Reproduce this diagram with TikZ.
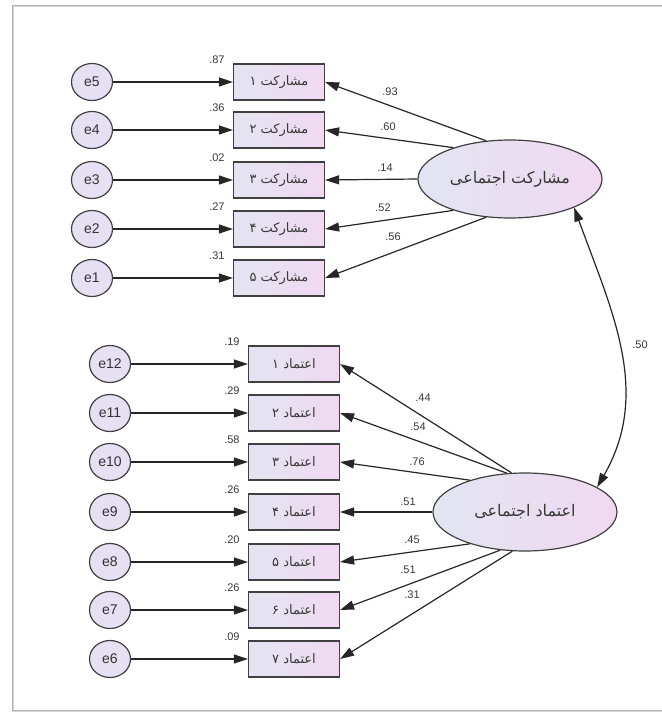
\documentclass[tikz,border=0pt]{standalone}
\usepackage{fontspec}
\setmainfont{Liberation Sans}
\newfontfamily\farsi[Script=Arabic]{DejaVu Sans}
\TeXXeTstate=1
\usetikzlibrary{arrows.meta,shapes.geometric}
\newcommand{\fa}[1]{{\farsi\beginR #1\endR}}
\definecolor{frameline}{HTML}{B0B0B0}
\definecolor{shadeleft}{HTML}{E2E5F1}
\definecolor{shaderight}{HTML}{F0D9F1}
\definecolor{errfill}{HTML}{E6E0F2}
\definecolor{labelgray}{HTML}{383838}

\begin{document}
\begin{tikzpicture}[x=1pt,y=-1pt,
    indicator/.style={draw=black!75, line width=1.2pt, minimum width=91pt, minimum height=36pt,
        inner sep=0pt, left color=shadeleft, right color=shaderight, text=labelgray,
        font=\fontsize{13}{14}\selectfont},
    errvar/.style={ellipse, draw=black!75, line width=1.2pt, minimum width=41pt, minimum height=37pt,
        inner sep=0pt, fill=errfill, text=black!80, font=\fontsize{14}{15}\selectfont},
    latent/.style={ellipse, draw=black!75, line width=1.2pt, minimum width=184pt, minimum height=78pt,
        inner sep=0pt, left color=shadeleft, right color=shaderight, text=labelgray,
        font=\fontsize{16}{17}\selectfont},
    loading/.style={-{Triangle[length=14pt,width=9pt]}, line width=1.2pt, black!85},
    corr/.style={{Triangle[length=14pt,width=9pt]}-{Triangle[length=14pt,width=9pt]}, line width=1.2pt, black!85},
    coef/.style={inner sep=1pt, text=labelgray, font=\fontsize{11}{12}\selectfont}]
    \useasboundingbox (0,0) rectangle (662,713);
    \draw[frameline!50, line width=2.5pt] (13,6) rectangle (720,711);
    \draw[frameline, line width=1pt] (12,5) rectangle (720,710);

    % social participation
    \node[latent] (part) at (510,179) {\fa{مشارکت اجتماعی}};
    \node[indicator] (m1) at (279,82)  {\fa{مشارکت ۱}};
    \node[indicator] (m2) at (279,130) {\fa{مشارکت ۲}};
    \node[indicator] (m3) at (279,180) {\fa{مشارکت ۳}};
    \node[indicator] (m4) at (279,229) {\fa{مشارکت ۴}};
    \node[indicator] (m5) at (279,278) {\fa{مشارکت ۵}};
    \node[errvar] (e5) at (92,82)  {e5};
    \node[errvar] (e4) at (92,130) {e4};
    \node[errvar] (e3) at (92,180) {e3};
    \node[errvar] (e2) at (92,229) {e2};
    \node[errvar] (e1) at (92,278) {e1};

    % social trust
    \node[latent] (trust) at (525,512) {\fa{اعتماد اجتماعی}};
    \node[indicator] (t1) at (294,364) {\fa{اعتماد ۱}};
    \node[indicator] (t2) at (294,413) {\fa{اعتماد ۲}};
    \node[indicator] (t3) at (294,462) {\fa{اعتماد ۳}};
    \node[indicator] (t4) at (294,512) {\fa{اعتماد ۴}};
    \node[indicator] (t5) at (294,562) {\fa{اعتماد ۵}};
    \node[indicator] (t6) at (294,610) {\fa{اعتماد ۶}};
    \node[indicator] (t7) at (294,659) {\fa{اعتماد ۷}};
    \node[errvar] (e12) at (110,364) {e12};
    \node[errvar] (e11) at (110,413) {e11};
    \node[errvar] (e10) at (110,462) {e10};
    \node[errvar] (e9)  at (110,512) {e9};
    \node[errvar] (e8)  at (110,562) {e8};
    \node[errvar] (e7)  at (110,610) {e7};
    \node[errvar] (e6)  at (110,659) {e6};

    \draw[loading] (e5) -- (m1);
    \draw[loading] (e4) -- (m2);
    \draw[loading] (e3) -- (m3);
    \draw[loading] (e2) -- (m4);
    \draw[loading] (e1) -- (m5);
    \draw[loading] (e12) -- (t1);
    \draw[loading] (e11) -- (t2);
    \draw[loading] (e10) -- (t3);
    \draw[loading] (e9)  -- (t4);
    \draw[loading] (e8)  -- (t5);
    \draw[loading] (e7)  -- (t6);
    \draw[loading] (e6)  -- (t7);

    \draw[loading] (part.122) -- (m1.east);
    \draw[loading] (part.151) -- (m2.east);
    \draw[loading] (part.180) -- (m3.east);
    \draw[loading] (part.209) -- (m4.east);
    \draw[loading] (part.238) -- (m5.east);
    \draw[loading] (trust.109) -- (t1.east);
    \draw[loading] (trust.115) -- (t2.east);
    \draw[loading] (trust.150) -- (t3.east);
    \draw[loading] (trust.180) -- (t4.east);
    \draw[loading] (trust.210) -- (t5.east);
    \draw[loading] (trust.237) -- (t6.east);
    \draw[loading] (trust.252) -- (t7.east);
    \draw[corr] (part.336) to[out=-70, in=60] (trust.19);

    % coefficients
    \node[coef] at (390,92)  {.93};
    \node[coef] at (388,127) {.60};
    \node[coef] at (385,168) {.14};
    \node[coef] at (383,208) {.52};
    \node[coef] at (393,237) {.56};
    \node[coef] at (423,398) {.44};
    \node[coef] at (418,427) {.54};
    \node[coef] at (417,462) {.76};
    \node[coef] at (408,502) {.51};
    \node[coef] at (412,540) {.45};
    \node[coef] at (408,570) {.51};
    \node[coef] at (412,595) {.31};
    \node[coef] at (640,345) {.50};

    % squared multiple correlations
    \node[coef] at ([xshift=-16pt,yshift=4pt]m1.north west) {.87};
    \node[coef] at ([xshift=-16pt,yshift=4pt]m2.north west) {.36};
    \node[coef] at ([xshift=-16pt,yshift=4pt]m3.north west) {.02};
    \node[coef] at ([xshift=-16pt,yshift=4pt]m4.north west) {.27};
    \node[coef] at ([xshift=-16pt,yshift=4pt]m5.north west) {.31};
    \node[coef] at ([xshift=-16pt,yshift=4pt]t1.north west) {.19};
    \node[coef] at ([xshift=-16pt,yshift=4pt]t2.north west) {.29};
    \node[coef] at ([xshift=-16pt,yshift=4pt]t3.north west) {.58};
    \node[coef] at ([xshift=-16pt,yshift=4pt]t4.north west) {.26};
    \node[coef] at ([xshift=-16pt,yshift=4pt]t5.north west) {.20};
    \node[coef] at ([xshift=-16pt,yshift=4pt]t6.north west) {.26};
    \node[coef] at ([xshift=-16pt,yshift=4pt]t7.north west) {.09};
\end{tikzpicture}
\end{document}
